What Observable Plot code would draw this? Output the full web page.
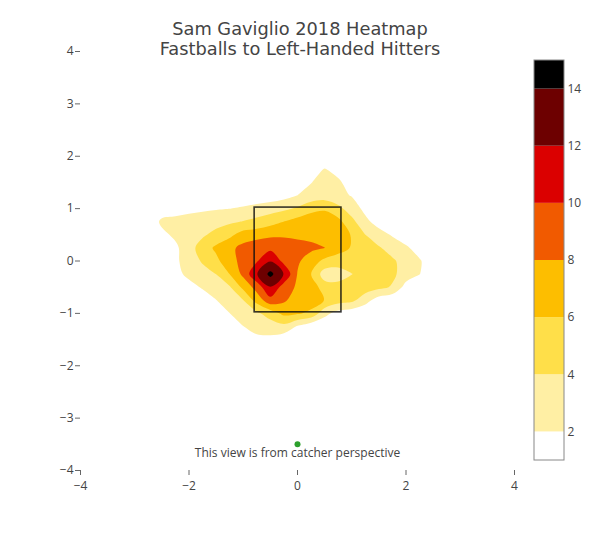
<!DOCTYPE html>
<html>
<head>
<meta charset="utf-8">
<script src="https://cdn.jsdelivr.net/npm/d3@7"></script>
<script src="https://cdn.jsdelivr.net/npm/@observablehq/plot@0.6"></script>
<style>
  html, body { margin: 0; padding: 0; background: #fff; }
  #wrap { position: relative; width: 600px; height: 550px; font-family: "Open Sans", sans-serif; }
  #main { position: absolute; left: 0; top: 0; width: 600px; }
  #cbar { position: absolute; left: 533px; top: 55px; width: 64px; }
  #title { position: absolute; left: 0; top: 19px; width: 600px; text-align: center;
           font-family: "DejaVu Sans", sans-serif; font-size: 17.8px; line-height: 20px; color: #444; }
  #err { position: absolute; left: 0; top: 500px; font-size: 10px; color: red; }
</style>
</head>
<body>
<div id="wrap">
  <div id="main"></div>
  <div id="cbar"></div>
  <div id="title">Sam Gaviglio 2018 Heatmap<br>Fastballs to Left-Handed Hitters</div>
  <div id="err"></div>
</div>
<script>
// ---- data ----
const noteText = "This view is from catcher perspective";
const noteY = -3.66;

// grid of estimated pitch counts: columns = gridX, rows = gridY (top to bottom)
const gridX = [-2.75,-2.5,-2.25,-2,-1.75,-1.5,-1.25,-1,-0.75,-0.5,-0.25,0,0.25,0.5,0.75,1,1.25,1.5,1.75,2,2.25,2.5];
const gridY = [2,1.75,1.5,1.25,1,0.75,0.5,0.25,0,-0.25,-0.5,-0.75,-1,-1.25,-1.5,-1.75];
const densityRows = [
  [0,0,0,0,0,0,0,0,0,0,0,0,0.2,0.5,0.3,0,0,0,0,0,0,0],
  [0,0,0,0,0,0,0,0,0,0,0.2,0.5,1.2,2.1,1.4,0.5,0.2,0,0,0,0,0],
  [0,0,0,0,0,0,0.1,0.2,0.3,0.4,0.6,1.0,1.95,2.6,2.3,1.2,0.6,0.2,0,0,0,0],
  [0,0.1,0.2,0.3,0.3,0.3,0.3,0.5,0.7,0.9,1.3,2.03,2.6,3.0,2.5,1.9,1.2,0.5,0.2,0,0,0],
  [0.3,0.9,1.3,1.5,1.7,1.85,1.98,2.3,2.7,3.1,3.6,4.3,5.5,5.8,4.6,3.0,1.5,0.8,0.4,0.2,0,0],
  [0.5,2.4,2.5,2.8,3.0,3.3,3.7,4.1,4.6,5.3,6.02,6.8,7.0,7.0,6.6,4.6,2.5,1.2,0.6,0.3,0.1,0],
  [0.5,1.5,2.4,3.0,3.7,4.6,5.5,6.9,7.2,7.6,7.7,7.6,7.5,7.3,6.8,5.9,4.02,2.8,1.8,0.9,0.3,0.1],
  [0.3,0.8,1.6,3.2,4.9,6.4,7.5,8.6,9.3,9.5,9.1,8.7,8.4,8.02,7.0,5.8,4.9,4.2,3.2,2.3,1.2,0.4],
  [0.2,0.7,1.6,3.0,4.2,5.5,7.3,8.6,9.8,11.9,9.4,8.3,7.0,5.5,4.8,4.9,4.8,4.6,4.3,3.2,2.2,0.8],
  [0.2,0.6,1.4,2.5,3.3,4.02,6.02,8.5,11.9,14.6,11.9,7.9,6.02,3.0,3.2,3.95,4.7,4.8,4.4,3.1,2.05,0.7],
  [0.1,0.2,0.6,1.3,2.2,3.0,3.8,6.5,8.8,11.9,9.0,7.7,7.2,5.0,4.6,4.8,5.0,4.5,3.8,1.2,0.5,0.1],
  [0,0,0.1,0.3,1.0,1.95,3.0,3.95,6.8,9.3,8.3,7.0,6.9,5.95,4.9,4.5,2.8,1.0,0.4,0.1,0,0],
  [0,0,0,0,0.2,1.0,1.98,2.8,3.6,4.9,6.5,6.2,5.6,2.6,1.2,0.7,0.3,0.1,0,0,0,0],
  [0,0,0,0,0,0.3,1.0,1.97,2.6,3.0,3.4,1.8,0.6,0.5,0.2,0,0,0,0,0,0,0],
  [0,0,0,0,0,0,0.2,0.8,1.6,1.5,0.7,0.5,0.2,0,0,0,0,0,0,0,0,0],
  [0,0,0,0,0,0,0,0,0.3,0.3,0,0,0,0,0,0,0,0,0,0,0,0]
];

const levels = [2, 4, 6, 8, 10, 12, 14];
const levelColors = ["#ffffff", "rgb(255,239,164)", "rgb(255,223,73)", "rgb(253,190,0)",
                     "rgb(241,90,0)", "rgb(219,0,0)", "rgb(109,0,0)", "rgb(0,0,0)"];
const colorbarRange = [1, 15];

const xTicks = [-4, -2, 0, 2, 4];
const yTicks = [-4, -3, -2, -1, 0, 1, 2, 3, 4];
const axisRange = [-4, 4];

const strikeZone = [{left: -0.79, right: 0.81, bottom: -0.98, top: 1.02}];
const homePlate = [{x: 0, y: -3.5}];

// rounds the contour rings drawn by Plot (like the smoothed contour lines of the original)
function smoothContours(svg) {
  const line = d3.line().curve(d3.curveCatmullRomClosed.alpha(0.5));
  svg.querySelectorAll('g[aria-label="contour"] path').forEach(p => {
    const d = p.getAttribute("d");
    if (!d) return;
    const rings = d.split("M").filter(s => s.trim()).map(s => {
      const nums = (s.replace(/Z/g, "").match(/-?\d*\.?\d+(?:e[-+]?\d+)?/gi) || []).map(Number);
      const pts = [];
      for (let i = 0; i + 1 < nums.length; i += 2) pts.push([nums[i], nums[i + 1]]);
      if (pts.length > 1) {
        const a = pts[0], b = pts[pts.length - 1];
        if (Math.abs(a[0] - b[0]) < 1e-6 && Math.abs(a[1] - b[1]) < 1e-6) pts.pop();
      }
      return pts.length > 2 ? line(pts) : "";
    });
    p.setAttribute("d", rings.join(""));
  });
}

try {
// ---- chart ----
const stepX = gridX[1] - gridX[0];
const stepY = gridY[0] - gridY[1];
// bottom row first so that y1 (bottom) < y2 (top)
const flatDensity = densityRows.slice().reverse().flat();
const yBottom = gridY[gridY.length - 1] - stepY / 2;
const yTop = gridY[0] + stepY / 2;

const colorScale = {type: "threshold", domain: levels, range: levelColors};

const main = Plot.plot({
  width: 600, height: 550,
  marginLeft: 80, marginRight: 86, marginTop: 51, marginBottom: 80,
  style: {fontFamily: "Open Sans", fontSize: "12px", color: "#444", background: "transparent"},
  x: {domain: axisRange, label: null},
  y: {domain: axisRange, label: null},
  color: colorScale,
  marks: [
    Plot.contour(flatDensity, {
      width: gridX.length, height: gridY.length,
      x1: gridX[0] - stepX / 2, x2: gridX[gridX.length - 1] + stepX / 2,
      y1: yBottom, y2: yTop,
      thresholds: levels, fill: Plot.identity
    }),
    Plot.rect(strikeZone, {x1: "left", x2: "right", y1: "bottom", y2: "top",
      fill: "none", stroke: "#111", strokeWidth: 1.6, strokeOpacity: 0.85}),
    Plot.dot(homePlate, {x: "x", y: "y", r: 3, fill: "rgb(44,160,44)"}),
    Plot.text([noteText], {x: 0, y: noteY, text: d => d, fill: "#444", fontSize: 12, textAnchor: "middle"}),
    Plot.axisX({ticks: xTicks, tickSize: 5, tickPadding: 6, stroke: "#666", fill: "#444", label: null}),
    Plot.axisY({ticks: yTicks, tickSize: 5, tickPadding: 2, stroke: "#666", fill: "#444", label: null})
  ]
});
smoothContours(main);
document.getElementById("main").appendChild(main);

// ---- colorbar ----
const bandEdges = [colorbarRange[0], ...levels, colorbarRange[1]];
const bands = bandEdges.slice(0, -1).map((lo, i) => ({lo, hi: bandEdges[i + 1]}));

const cbar = Plot.plot({
  width: 64, height: 410,
  marginLeft: 1, marginRight: 33, marginTop: 5, marginBottom: 5,
  style: {fontFamily: "Open Sans", fontSize: "12px", color: "#444", background: "transparent"},
  x: {domain: [0, 1], axis: null},
  y: {domain: colorbarRange, axis: null},
  color: colorScale,
  marks: [
    Plot.rect(bands, {x1: 0, x2: 1, y1: "lo", y2: "hi", fill: "lo"}),
    Plot.rect([colorbarRange], {x1: 0, x2: 1, y1: d => d[0], y2: d => d[1], fill: "none", stroke: "#888", strokeWidth: 1}),
    Plot.axisY({anchor: "right", ticks: levels, tickSize: 0, tickPadding: 3, fill: "#444", label: null})
  ]
});
document.getElementById("cbar").appendChild(cbar);
} catch (e) { document.getElementById("err").textContent = String(e); }
</script>
</body>
</html>
